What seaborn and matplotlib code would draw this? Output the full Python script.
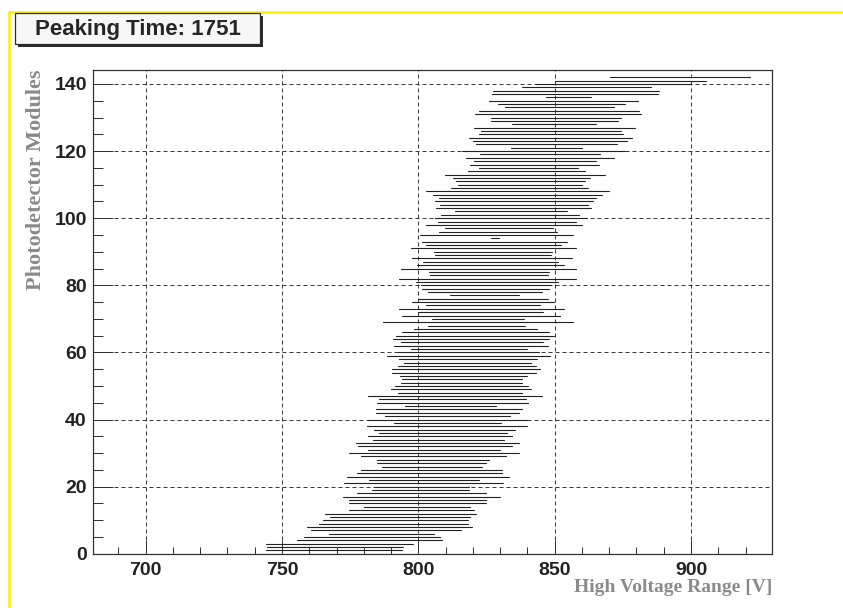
import matplotlib
matplotlib.use("Agg")
import matplotlib.pyplot as plt
import pandas as pd
import seaborn as sns
from matplotlib.lines import Line2D
from matplotlib.patches import Rectangle
from matplotlib.ticker import MultipleLocator

# ---------------- data ----------------
modules = list(range(1, 143))
v_low = [
    744.2, 744.5, 744.0, 755.5, 757.9, 767.3, 760.7, 759.3, 763.4, 765.2,
    767.7, 765.9, 774.7, 779.9, 774.4, 774.7, 772.4, 777.5, 783.1, 783.8,
    772.8, 781.9, 774.0, 777.4, 779.0, 786.7, 785.0, 785.0, 779.0, 774.4,
    781.7, 778.0, 777.2, 783.3, 781.7, 785.6, 783.8, 781.3, 791.2, 781.7,
    787.8, 784.5, 784.5, 795.1, 784.9, 785.6, 781.6, 792.6, 790.0, 791.5,
    793.7, 794.0, 793.3, 790.4, 790.4, 792.6, 794.8, 792.9, 788.5, 792.7,
    797.3, 791.1, 793.7, 790.7, 791.8, 794.0, 798.4, 803.6, 787.1, 805.0,
    794.0, 800.0, 792.9, 802.8, 797.7, 800.0, 811.6, 803.6, 801.4, 800.9,
    799.2, 792.9, 804.3, 803.9, 793.7, 799.5, 801.7, 797.7, 806.1, 805.8,
    797.3, 802.8, 801.4, 826.6, 800.6, 807.6, 809.8, 802.8, 807.2, 806.0,
    808.3, 813.4, 806.5, 807.9, 806.1, 807.6, 805.4, 802.8, 812.0, 814.5,
    813.8, 812.7, 809.8, 818.2, 822.2, 818.9, 820.4, 817.5, 822.6, 816.1,
    834.0, 821.1, 820.0, 818.6, 822.2, 823.0, 820.4, 834.3, 826.6, 826.6,
    820.8, 822.2, 831.8, 829.2, 825.9, 846.8, 827.0, 827.4, 838.0, 843.2,
    850.3, 870.2,
]
v_high = [
    793.9, 794.3, 797.9, 808.6, 807.9, 805.9, 815.5, 819.6, 818.3, 818.3,
    819.1, 821.0, 820.4, 818.9, 825.0, 825.0, 829.8, 824.7, 818.6, 818.6,
    831.0, 822.1, 833.2, 830.7, 830.7, 823.3, 825.0, 825.8, 832.1, 836.9,
    829.9, 834.2, 836.9, 831.3, 834.2, 832.4, 835.4, 839.7, 830.2, 839.7,
    833.8, 837.1, 837.9, 828.4, 840.1, 839.5, 845.2, 838.2, 841.2, 840.1,
    838.2, 838.2, 839.7, 843.0, 844.6, 843.0, 841.3, 843.4, 848.2, 844.2,
    839.7, 847.4, 845.6, 848.1, 849.6, 847.8, 843.7, 839.0, 856.6, 838.6,
    851.8, 845.9, 853.3, 844.5, 849.6, 847.4, 836.8, 845.2, 847.8, 848.6,
    851.1, 857.7, 847.4, 847.8, 858.0, 853.6, 851.1, 856.2, 848.5, 849.2,
    858.0, 852.5, 854.7, 829.6, 856.9, 850.7, 849.3, 859.9, 858.0, 862.0,
    859.0, 854.4, 863.2, 862.1, 863.9, 865.0, 867.2, 870.1, 862.1, 860.2,
    861.3, 862.8, 868.3, 861.3, 858.4, 866.1, 865.3, 871.7, 866.6, 875.7,
    860.2, 873.0, 876.7, 878.5, 874.9, 874.5, 879.4, 865.3, 873.4, 874.5,
    881.8, 880.8, 871.6, 875.7, 880.4, 863.5, 887.8, 888.2, 885.5, 900.0,
    905.6, 921.8,
]
x_ticks = [700, 750, 800, 850, 900]
y_ticks = [0, 20, 40, 60, 80, 100, 120, 140]
title_text = "Peaking Time: 1751"
x_label = "High Voltage Range [V]"
y_label = "Photodetector Modules"

# ---------------- style ----------------
sns.set_style("white")
plt.rcParams["font.family"] = ["Liberation Sans", "DejaVu Sans"]

W, H = 843, 608
fig = plt.figure(figsize=(W / 100, H / 100), dpi=100)
fig.patch.set_facecolor("white")

ax_left, ax_right, ax_top, ax_bottom = 93, 772, 70, 553.8
ax = fig.add_axes([ax_left / W, 1 - ax_bottom / H,
                   (ax_right - ax_left) / W, (ax_bottom - ax_top) / H])
ax.set_facecolor("white")

df = pd.DataFrame({
    "module": modules + modules,
    "voltage": v_low + v_high,
})
sns.lineplot(data=df, x="voltage", y="module", units="module",
             estimator=None, color="#222222", linewidth=0.8,
             ax=ax, legend=False)

ax.set_xlim(680.7, 929.7)
ax.set_ylim(0, 144.16)

grid_kw = dict(color="#3a3a3a", linewidth=0.72, linestyle=(0, (4, 3)))
ax.grid(True, which="major", axis="both", **grid_kw)
ax.set_axisbelow(True)

for sp in ax.spines.values():
    sp.set_visible(True)
    sp.set_color("#333333")
    sp.set_linewidth(0.9)

ax.set_xticks(x_ticks)
ax.set_yticks(y_ticks)
ax.xaxis.set_minor_locator(MultipleLocator(10))
ax.yaxis.set_minor_locator(MultipleLocator(5))
ax.tick_params(axis="x", which="major", direction="in", length=10.4,
               width=0.72, color="#333333", pad=6, bottom=True, top=False)
ax.tick_params(axis="x", which="minor", direction="in", length=5.2,
               width=0.72, color="#333333", bottom=True, top=False)
ax.tick_params(axis="y", which="major", direction="in", length=14.7,
               width=0.72, color="#333333", pad=4.5, left=True, right=False)
ax.tick_params(axis="y", which="minor", direction="in", length=7.3,
               width=0.72, color="#333333", left=True, right=False)
ax.set_xticklabels([str(t) for t in x_ticks], fontsize=14,
                   fontweight="bold", color="#222222")
ax.set_yticklabels([str(t) for t in y_ticks], fontsize=14,
                   fontweight="bold", color="#222222")
ax.set_xlabel("")
ax.set_ylabel("")

# axis titles (ROOT style: right / top aligned, grey serif)
fig.text(ax_right / W, 1 - 588 / H, x_label, ha="right", va="center",
         family=["Liberation Serif", "DejaVu Serif"], fontweight="bold",
         fontsize=14, color="#8a8a8a")
fig.text(36 / W, 1 - ax_top / H, y_label, ha="center", va="top",
         rotation=90, family=["Liberation Serif", "DejaVu Serif"],
         fontweight="bold", fontsize=16, color="#8a8a8a")

# title pave with shadow
bx0, by0, bx1, by1 = 15, 12.7, 260, 44.3
shadow = Rectangle(((bx0 + 3) / W, 1 - (by1 + 3) / H),
                   (bx1 - bx0) / W, (by1 - by0) / H,
                   transform=fig.transFigure, facecolor="#2a2a2a",
                   edgecolor="none", zorder=5)
box = Rectangle((bx0 / W, 1 - by1 / H), (bx1 - bx0) / W, (by1 - by0) / H,
                transform=fig.transFigure, facecolor="#f7f7f7",
                edgecolor="#2a2a2a", linewidth=0.9, zorder=6)
fig.add_artist(shadow)
fig.add_artist(box)
fig.text((bx0 + bx1) / 2 / W, 1 - 29 / H, title_text, ha="center",
         va="center", fontsize=16, fontweight="bold", color="#262626",
         zorder=7)

# yellow frame edges (top and left)
yel = "#ffee00"
fig.add_artist(Line2D([8.7 / W, 1.0], [1 - 11.7 / H, 1 - 11.7 / H],
                      transform=fig.transFigure, color=yel, linewidth=1.8))
fig.add_artist(Line2D([8.7 / W, 8.7 / W], [0.0, 1 - 11.7 / H],
                      transform=fig.transFigure, color=yel, linewidth=1.8))

fig.savefig("out.png", dpi=100, facecolor="white")
